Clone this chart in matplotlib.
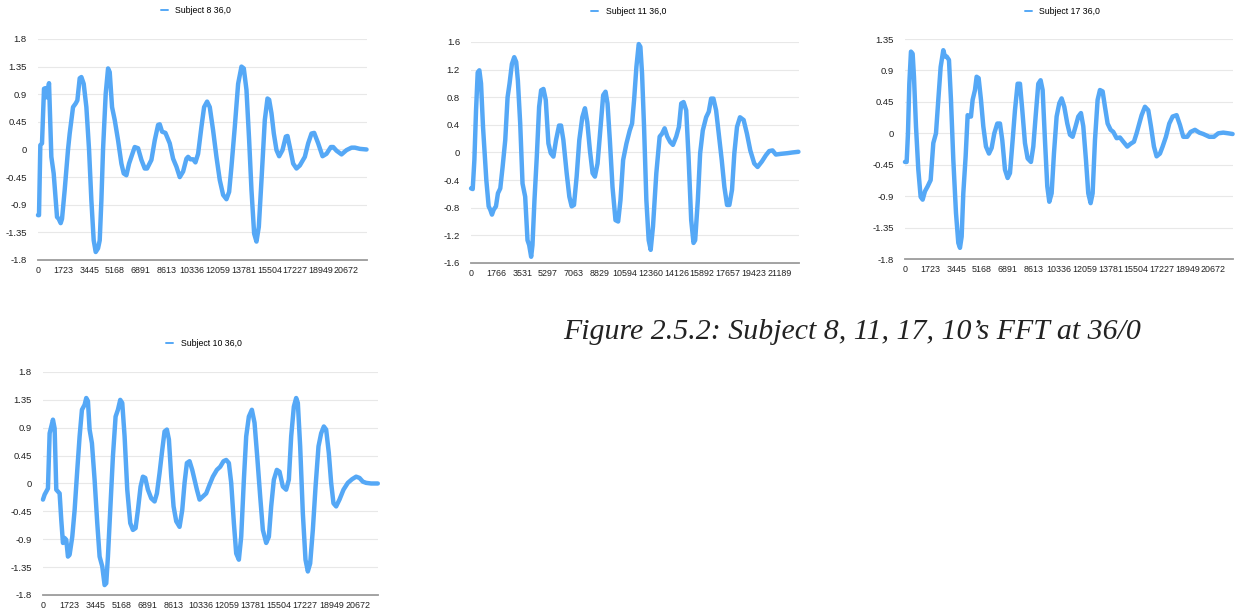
import matplotlib.pyplot as plt

plt.rcParams['font.family'] = ['Liberation Sans', 'DejaVu Sans']
plt.rcParams['axes.unicode_minus'] = False

# Subject 8
s8_x = [0, 67, 156, 268, 402, 514, 581, 738, 894, 1050, 1274, 1386, 1520, 1609, 1788, 2012,
        2123, 2347, 2526, 2637, 2794, 2906, 3062, 3241, 3420, 3576, 3732, 3867, 4023, 4135,
        4247, 4358, 4537, 4694, 4805, 4962, 5141, 5364, 5588, 5744, 5923, 6102, 6325, 6482,
        6705, 6929, 7152, 7308, 7599, 7823, 8046, 8158, 8314, 8538, 8828, 9052, 9275, 9499,
        9722, 9946, 10058, 10214, 10393, 10549, 10728, 10952, 11130, 11331, 11510, 11734,
        11957, 12181, 12404, 12628, 12807, 12963, 13187, 13410, 13634, 13790, 13969, 14148,
        14304, 14483, 14639, 14796, 14975, 15198, 15377, 15489, 15645, 15801, 15980, 16159,
        16383, 16606, 16718, 16874, 17098, 17321, 17545, 17880, 18104, 18327, 18506, 18774,
        19065, 19333, 19623, 19780, 20003, 20338, 20674, 21009, 21233, 21568, 22015]
s8_y = [-1.07, -1.07, 0.07, 0.10, 0.99, 1.00, 0.85, 1.08, -0.12, -0.39, -1.10, -1.13, -1.20,
        -1.13, -0.66, 0.0, 0.26, 0.69, 0.75, 0.80, 1.16, 1.18, 1.07, 0.69, 0.0, -0.83, -1.48,
        -1.67, -1.61, -1.48, -0.83, 0.0, 0.91, 1.32, 1.26, 0.69, 0.48, 0.15, -0.23, -0.39,
        -0.42, -0.23, -0.07, 0.04, 0.02, -0.17, -0.31, -0.31, -0.17, 0.15, 0.40, 0.41, 0.29,
        0.27, 0.10, -0.15, -0.28, -0.45, -0.36, -0.15, -0.12, -0.16, -0.16, -0.21, -0.07,
        0.37, 0.69, 0.78, 0.69, 0.31, -0.12, -0.50, -0.74, -0.81, -0.69, -0.28, 0.37, 1.07,
        1.35, 1.32, 0.97, 0.15, -0.66, -1.37, -1.50, -1.26, -0.50, 0.48, 0.83, 0.81, 0.59,
        0.26, -0.01, -0.11, -0.01, 0.21, 0.22, 0.04, -0.23, -0.31, -0.26, -0.12, 0.10, 0.26,
        0.27, 0.10, -0.11, -0.07, 0.04, 0.04, -0.02, -0.08, -0.01, 0.03, 0.03, 0.01, 0.0]

# Subject 11
s11_x = [0, 114, 228, 342, 457, 571, 685, 822, 936, 1050, 1210, 1324, 1438, 1552, 1712, 1849,
         2009, 2169, 2351, 2511, 2648, 2808, 2968, 3105, 3219, 3379, 3539, 3721, 3881, 3995,
         4132, 4223, 4360, 4520, 4680, 4817, 4977, 5137, 5319, 5479, 5662, 5844, 6050, 6187,
         6347, 6575, 6758, 6917, 7077, 7260, 7443, 7648, 7831, 7991, 8173, 8356, 8516, 8698,
         8904, 9086, 9246, 9383, 9543, 9726, 9931, 10114, 10274, 10456, 10684, 10913, 11073,
         11210, 11370, 11529, 11643, 11758, 11895, 12054, 12214, 12351, 12511, 12739, 12968,
         13128, 13310, 13493, 13698, 13881, 14109, 14292, 14452, 14612, 14794, 14954, 15137,
         15296, 15410, 15593, 15753, 15935, 16164, 16346, 16506, 16666, 16849, 17031, 17237,
         17419, 17602, 17762, 17944, 18104, 18287, 18492, 18743, 18972, 19200, 19474, 19702,
         19999, 20273, 20501, 20730, 20958, 21300, 21757, 22099, 22510]
s11_y = [-0.52, -0.53, -0.11, 0.61, 1.16, 1.19, 1.00, 0.37, -0.01, -0.40, -0.78, -0.83, -0.90,
         -0.83, -0.78, -0.59, -0.52, -0.21, 0.18, 0.80, 1.00, 1.28, 1.38, 1.31, 1.04, 0.42,
         -0.45, -0.64, -1.27, -1.34, -1.51, -1.34, -0.69, -0.06, 0.66, 0.90, 0.92, 0.76, 0.13,
         -0.01, -0.06, 0.18, 0.39, 0.39, 0.18, -0.30, -0.64, -0.78, -0.76, -0.35, 0.18, 0.51,
         0.64, 0.44, 0.03, -0.30, -0.35, -0.16, 0.37, 0.83, 0.88, 0.71, 0.18, -0.50, -0.98,
         -1.00, -0.69, -0.11, 0.13, 0.32, 0.42, 0.76, 1.24, 1.57, 1.53, 1.14, 0.37, -0.69,
         -1.27, -1.41, -1.07, -0.30, 0.23, 0.27, 0.35, 0.23, 0.15, 0.11, 0.23, 0.37, 0.71,
         0.73, 0.61, -0.06, -0.98, -1.31, -1.27, -0.69, -0.01, 0.32, 0.51, 0.59, 0.78, 0.78,
         0.61, 0.27, -0.11, -0.50, -0.76, -0.76, -0.54, -0.01, 0.37, 0.51, 0.47, 0.27, 0.03,
         -0.16, -0.21, -0.13, -0.04, 0.02, 0.03, -0.03, -0.02, -0.01, 0.0, 0.01]

# Subject 17
s17_x = [0, 112, 201, 291, 402, 514, 603, 738, 894, 1050, 1185, 1341, 1520, 1721, 1900, 2079,
         2235, 2392, 2570, 2682, 2794, 2950, 3084, 3241, 3420, 3576, 3688, 3800, 3911, 4068,
         4202, 4314, 4425, 4537, 4694, 4805, 4939, 5096, 5252, 5431, 5632, 5811, 5990, 6191,
         6370, 6526, 6705, 6884, 7040, 7219, 7376, 7554, 7711, 7867, 8046, 8225, 8448, 8605,
         8761, 8940, 9096, 9231, 9387, 9543, 9678, 9834, 9990, 10169, 10348, 10505, 10683,
         10884, 11063, 11242, 11443, 11622, 11801, 11957, 12136, 12292, 12449, 12583, 12740,
         12918, 13075, 13254, 13410, 13589, 13790, 13969, 14192, 14416, 14639, 14907, 15131,
         15354, 15533, 15712, 15869, 16092, 16316, 16494, 16695, 16874, 17098, 17277, 17500,
         17724, 17947, 18215, 18439, 18662, 18930, 19154, 19445, 19735, 20003, 20406, 20718,
         21009, 21344, 21680, 21970]
s17_y = [-0.41, -0.41, 0.0, 0.71, 1.17, 1.14, 0.81, 0.10, -0.52, -0.91, -0.95, -0.83, -0.76,
         -0.67, -0.14, 0.0, 0.48, 0.95, 1.19, 1.10, 1.10, 1.05, 0.48, -0.38, -1.14, -1.57,
         -1.64, -1.48, -0.86, -0.33, 0.26, 0.24, 0.24, 0.48, 0.62, 0.81, 0.79, 0.48, 0.10,
         -0.19, -0.29, -0.21, 0.0, 0.14, 0.14, -0.10, -0.52, -0.64, -0.57, -0.10, 0.33, 0.71,
         0.71, 0.33, -0.14, -0.36, -0.41, -0.19, 0.24, 0.71, 0.76, 0.62, -0.10, -0.76, -0.98,
         -0.86, -0.29, 0.24, 0.43, 0.50, 0.38, 0.14, -0.02, -0.05, 0.10, 0.24, 0.29, 0.10,
         -0.38, -0.86, -1.00, -0.86, -0.10, 0.48, 0.62, 0.60, 0.38, 0.14, 0.05, 0.02, -0.07,
         -0.06, -0.12, -0.19, -0.15, -0.12, 0.0, 0.14, 0.26, 0.38, 0.33, 0.10, -0.19, -0.33,
         -0.29, -0.19, -0.05, 0.14, 0.24, 0.26, 0.12, -0.05, -0.05, 0.02, 0.05, 0.01, -0.01,
         -0.05, -0.05, 0.0, 0.01, 0.0, -0.01]

# Subject 10
s10_x = [0, 109, 219, 328, 438, 547, 656, 766, 875, 985, 1094, 1203, 1313, 1422, 1532, 1641,
         1750, 1925, 2079, 2254, 2407, 2560, 2735, 2844, 2954, 3063, 3216, 3391, 3566, 3720,
         3895, 4048, 4157, 4267, 4442, 4595, 4770, 4923, 5076, 5207, 5361, 5536, 5733, 5908,
         6083, 6236, 6411, 6564, 6717, 6892, 7111, 7330, 7483, 7658, 7833, 7986, 8139, 8271,
         8424, 8577, 8752, 8971, 9146, 9299, 9452, 9627, 9802, 9955, 10109, 10284, 10502,
         10721, 10940, 11159, 11422, 11640, 11859, 12034, 12209, 12362, 12538, 12691, 12865,
         13019, 13194, 13347, 13522, 13719, 13894, 14069, 14266, 14441, 14660, 14835, 14988,
         15163, 15360, 15535, 15754, 15972, 16147, 16301, 16476, 16629, 16738, 16891, 17066,
         17241, 17395, 17548, 17723, 17902, 18095, 18270, 18445, 18598, 18773, 18926, 19079,
         19254, 19473, 19736, 20020, 20305, 20567, 20786, 21005, 21224, 21552, 21990]
s10_y = [-0.26, -0.18, -0.13, -0.08, 0.81, 0.92, 1.03, 0.89, -0.10, -0.13, -0.16, -0.59, -0.96,
         -0.88, -0.91, -1.18, -1.15, -0.86, -0.43, 0.22, 0.76, 1.19, 1.27, 1.38, 1.33, 0.87,
         0.65, 0.06, -0.64, -1.18, -1.34, -1.64, -1.61, -1.18, -0.32, 0.44, 1.08, 1.19, 1.35,
         1.30, 0.76, -0.10, -0.64, -0.75, -0.72, -0.43, -0.05, 0.11, 0.09, -0.10, -0.24, -0.29,
         -0.16, 0.17, 0.54, 0.84, 0.87, 0.71, 0.11, -0.37, -0.61, -0.70, -0.43, 0.01, 0.33,
         0.36, 0.22, 0.06, -0.10, -0.26, -0.21, -0.16, -0.02, 0.11, 0.22, 0.27, 0.36, 0.38,
         0.33, 0.01, -0.64, -1.13, -1.23, -0.86, 0.06, 0.76, 1.08, 1.19, 0.98, 0.44, -0.21,
         -0.75, -0.96, -0.86, -0.37, 0.06, 0.22, 0.19, -0.05, -0.10, 0.06, 0.76, 1.24, 1.38,
         1.30, 0.60, -0.48, -1.23, -1.42, -1.29, -0.75, -0.05, 0.60, 0.81, 0.92, 0.87, 0.49,
         0.01, -0.32, -0.37, -0.26, -0.10, 0.01, 0.07, 0.11, 0.09, 0.03, 0.01, 0.0, 0.0]

ticks_a = [0, 1723, 3445, 5168, 6891, 8613, 10336, 12059, 13781, 15504, 17227, 18949, 20672]
ticks_b = [0, 1766, 3531, 5297, 7063, 8829, 10594, 12360, 14126, 15892, 17657, 19423, 21189]

yt_45 = [-1.8, -1.35, -0.9, -0.45, 0, 0.45, 0.9, 1.35, 1.8]
yl_45 = ['-1.8', '-1.35', '-0.9', '-0.45', '0', '0.45', '0.9', '1.35', '1.8']
yt_40 = [-1.6, -1.2, -0.8, -0.4, 0, 0.4, 0.8, 1.2, 1.6]
yl_40 = ['-1.6', '-1.2', '-0.8', '-0.4', '0', '0.4', '0.8', '1.2', '1.6']

blue = '#55a8f6'

fig = plt.figure(figsize=(12.38, 6.11), dpi=100)


def draw(rect, x, y, label, xt, xend, yt, yl, leg_x, leg_y):
    ax = fig.add_axes(rect)
    ax.plot(x, y, color=blue, linewidth=3.2, solid_joinstyle='round',
            solid_capstyle='round', label=label, clip_on=False)
    ax.set_xlim(0, xend)
    ax.set_ylim(yt[0], yt[-1])
    ax.set_xticks(xt)
    ax.set_xticklabels([str(t) for t in xt], fontsize=6.4, color='#222222')
    ax.set_yticks(yt)
    ax.set_yticklabels(yl, fontsize=6.8, color='#222222')
    ax.tick_params(length=0)
    ax.tick_params(axis='x', pad=4)
    ax.tick_params(axis='y', pad=8)
    ax.grid(axis='y', color='#e8e8e8', linewidth=0.8)
    ax.set_axisbelow(True)
    for s in ['left', 'right', 'top']:
        ax.spines[s].set_visible(False)
    ax.spines['bottom'].set_color('#9a9a9a')
    ax.spines['bottom'].set_linewidth(1.3)
    ax.spines['bottom'].set_zorder(0.5)
    ax.legend(loc='center', bbox_to_anchor=(leg_x, leg_y), frameon=False,
              handlelength=0.8, handletextpad=0.9, fontsize=6.3)
    leg = ax.get_legend()
    for h in leg.get_lines():
        h.set_linewidth(1.4)
    return ax


draw([0.0307, 0.5745, 0.2658, 0.3617], s8_x, s8_y, 'Subject 8 36,0', ticks_a, 22050,
     yt_45, yl_45, 0.48, 1.127)
draw([0.3805, 0.5696, 0.2649, 0.3617], s11_x, s11_y, 'Subject 11 36,0', ticks_b, 22550,
     yt_40, yl_40, 0.48, 1.136)
draw([0.7310, 0.5761, 0.2650, 0.3600], s17_x, s17_y, 'Subject 17 36,0', ticks_a, 22000,
     yt_45[:-1], yl_45[:-1], 0.48, 1.127)
draw([0.0347, 0.0262, 0.2706, 0.3650], s10_x, s10_y, 'Subject 10 36,0', ticks_a, 22000,
     yt_45, yl_45, 0.48, 1.126)

fig.text(563 / 1238, 0.457, 'Figure 2.5.2: Subject 8, 11, 17, 10\u2019s FFT at 36/0',
         family='Liberation Serif', style='italic', fontsize=21.5, color='#222222',
         ha='left', va='center')

fig.savefig('out.png', dpi=100)
